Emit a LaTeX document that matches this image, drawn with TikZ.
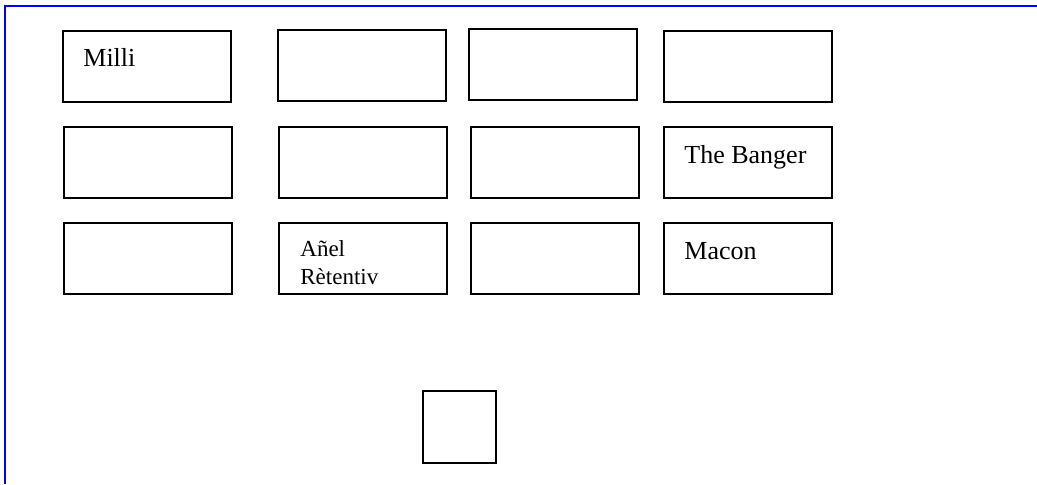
\documentclass[tikz,border=0pt]{standalone}
\usepackage{fontspec}
\setmainfont{Liberation Serif}
\begin{document}
\begin{tikzpicture}[x=0.5pt,y=-0.5pt,
  cell/.style={draw=black,line width=1pt,rectangle,inner sep=0pt,
    minimum width=84pt,minimum height=35.5pt},
  sq/.style={draw=black,line width=1pt,rectangle,inner sep=0pt,
    minimum width=36.5pt,minimum height=36pt},
  lbl/.style={anchor=base west,inner sep=0pt,font=\fontsize{13}{15.6}\selectfont},
  small/.style={anchor=base west,inner sep=0pt,align=left,
    font=\fontsize{11.5}{14}\selectfont},
  frame/.style={draw={rgb,255:red,0;green,0;blue,255},line width=1pt}]
\useasboundingbox (0,0) rectangle (1037,484);
% blue frame: top and left edges only
\coordinate (fTL) at (5,6);
\coordinate (fTR) at (1037,6);
\coordinate (fBL) at (5,484);
\draw[frame] (fBL) -- (fTL) -- (fTR);
% first row
\node[cell] (a1) at (147,66.5) {};
\node[cell] (a2) at (361.5,65) {};
\node[cell] (a3) at (553,64.5) {};
\node[cell] (a4) at (747.5,66.5) {};
% second row
\node[cell] (b1) at (147.5,162) {};
\node[cell] (b2) at (363,162) {};
\node[cell] (b3) at (555,162) {};
\node[cell] (b4) at (747.5,162.5) {};
% third row
\node[cell] (c1) at (147.5,258.5) {};
\node[cell] (c2) at (363,258) {};
\node[cell] (c3) at (555,258) {};
\node[cell] (c4) at (747.5,258) {};
% lone square below
\node[sq] (d) at (459.5,427) {};
% labels (base of a two-line node is the last line's baseline)
\node[lbl] (tMilli) at (83,66.7) {Milli};
\node[lbl] (tBanger) at (684,163.3) {The Banger};
\node[lbl] (tMacon) at (684,259) {Macon};
\node[small] (tAnel) at (300,284) {Añel\\Rètentiv};
\end{tikzpicture}
\end{document}
